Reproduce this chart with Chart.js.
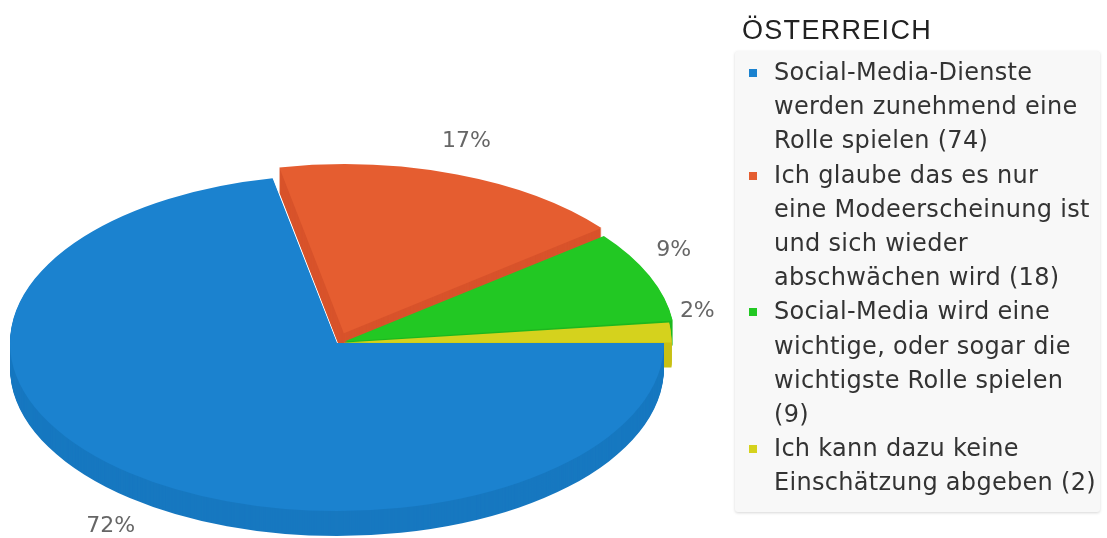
<!DOCTYPE html>
<html><head><meta charset="utf-8">
<script src="https://cdn.jsdelivr.net/npm/chart.js@4.4.1/dist/chart.umd.min.js"></script>
<style>
html,body{margin:0;padding:0;background:#fff;width:1107px;height:538px;overflow:hidden;}
#wrap{position:relative;width:1107px;height:538px;}
#c{position:absolute;left:0;top:0;}
#title{position:absolute;left:742px;top:15px;font:27px "Liberation Sans",Arial,sans-serif;letter-spacing:1.3px;color:#222;line-height:30px;white-space:nowrap;}
#legend{position:absolute;left:735px;top:51px;width:365px;height:461px;background:#f8f8f8;border-radius:3px;box-shadow:0 1px 3px rgba(0,0,0,0.16);box-sizing:border-box;padding-top:4px;}
.item{position:relative;padding-left:39px;}
.line{font:24px "DejaVu Sans",sans-serif;letter-spacing:0.3px;color:#333;line-height:34.2px;white-space:nowrap;}
.sw{position:absolute;left:14px;top:14px;width:8px;height:8px;}
</style></head>
<body>
<div id="wrap">
<canvas id="c" width="1107" height="538"></canvas>
<div id="title">ÖSTERREICH</div>
<div id="legend"></div>
</div>
<script>
const chartTitle = "ÖSTERREICH";
const categories = [
  ["Social-Media-Dienste", "werden zunehmend eine", "Rolle spielen"],
  ["Ich glaube das es nur", "eine Modeerscheinung ist", "und sich wieder", "abschwächen wird"],
  ["Social-Media wird eine", "wichtige, oder sogar die", "wichtigste Rolle spielen", ""],
  ["Ich kann dazu keine", "Einschätzung abgeben"]
];
const counts = [74, 18, 9, 2];

const topColors  = ['#1b82cf', '#e55d30', '#22c823', '#d5d21d'];
const sideColors = ['#1778c0', '#d8532b', '#1eb81f', '#c8c015'];
const SQUASH = 0.514, DEPTH = 25;

document.getElementById('title').textContent = chartTitle;
const legend = document.getElementById('legend');
categories.forEach((lines, i) => {
  const item = document.createElement('div');
  item.className = 'item';
  const sw = document.createElement('div');
  sw.className = 'sw'; sw.style.background = topColors[i];
  item.appendChild(sw);
  lines.forEach((t, j) => {
    const d = document.createElement('div');
    d.className = 'line';
    if (j === lines.length - 1) t = t ? t + ' (' + counts[i] + ')' : '(' + counts[i] + ')';
    d.textContent = t;
    item.appendChild(d);
  });
  legend.appendChild(item);
});

function squash(ctx, cx, cy) { ctx.translate(cx, cy); ctx.scale(1, SQUASH); ctx.translate(-cx, -cy); }

const pie3d = {
  id: 'pie3d',
  beforeDatasetsDraw(chart) {
    const ctx = chart.ctx;
    const arcs = chart.getDatasetMeta(0).data;
    const cx = arcs[0].x, cy = arcs[0].y;
    for (let k = DEPTH; k >= 1; k--) {
      arcs.forEach((arc, i) => {
        const face = Object.create(arc);
        face.options = Object.assign({}, arc.options, {backgroundColor: sideColors[i], borderColor: sideColors[i], borderWidth: 0});
        ctx.save(); ctx.translate(0, k); squash(ctx, cx, cy); face.draw(ctx); ctx.restore();
      });
    }
    ctx.save();
    squash(ctx, cx, cy);
  },
  afterDatasetsDraw(chart) {
    const ctx = chart.ctx;
    ctx.restore();
    const arcs = chart.getDatasetMeta(0).data;
    const total = counts.reduce((a, b) => a + b, 0);
    ctx.save();
    ctx.font = '22px "DejaVu Sans", sans-serif';
    ctx.fillStyle = '#666';
    ctx.textAlign = 'center';
    ctx.textBaseline = 'middle';
    arcs.forEach((arc, i) => {
      const mid = (arc.startAngle + arc.endAngle) / 2;
      const off = (arc.options.offset || 0) / 4;
      const r = arc.outerRadius + off + 30;
      const px = arc.x + Math.cos(mid) * r;
      let py = arc.y + Math.sin(mid) * r * SQUASH;
      if (Math.sin(mid) > 0) py += DEPTH + 16; else py -= 20;
      ctx.fillText(Math.round(counts[i] / total * 100) + '%', px, py);
    });
    ctx.restore();
  }
};

new Chart(document.getElementById('c'), {
  type: 'pie',
  data: {
    labels: categories,
    datasets: [{
      data: counts,
      backgroundColor: topColors,
      borderWidth: 0,
      offset: [0, 80, 32, 16],
      radius: 327,
      clip: false
    }]
  },
  options: {
    responsive: false,
    animation: false,
    events: [],
    rotation: 90,
    layout: {padding: {left: 10, right: 443, top: 150, bottom: 2}},
    plugins: {legend: {display: false}, tooltip: {enabled: false}, title: {display: false}}
  },
  plugins: [pie3d]
});
</script>
</body></html>
